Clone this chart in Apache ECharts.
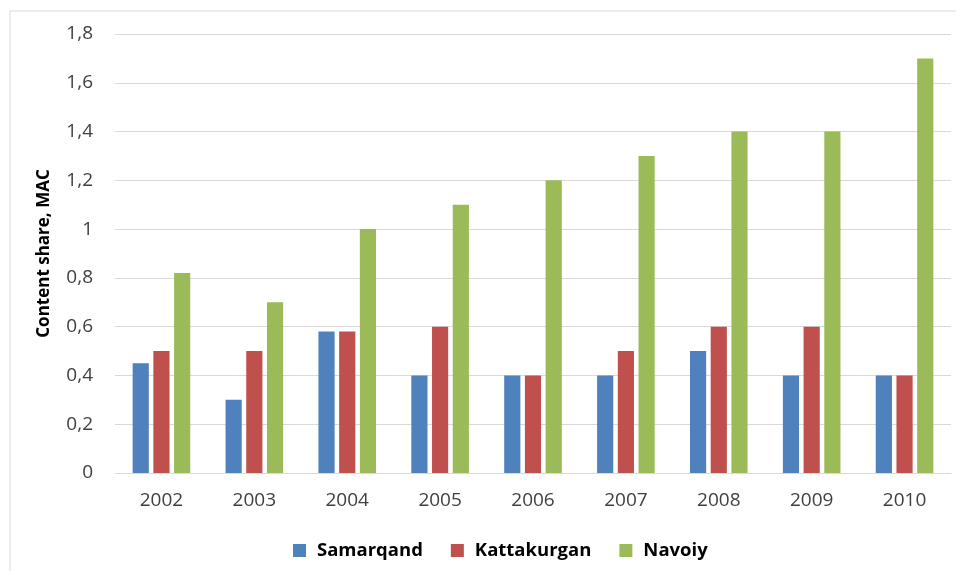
<!DOCTYPE html>
<html>
<head>
<meta charset="utf-8">
<script src="https://cdn.jsdelivr.net/npm/echarts@6/dist/echarts.min.js"></script>
<style>
  html, body { margin: 0; padding: 0; background: #fff; }
  #chart { width: 956px; height: 571px; }
</style>
</head>
<body>
<div id="chart"></div>
<script>
const years = ['2002', '2003', '2004', '2005', '2006', '2007', '2008', '2009', '2010']
const samarqand = [0.45, 0.3, 0.58, 0.4, 0.4, 0.4, 0.5, 0.4, 0.4]
const kattakurgan = [0.5, 0.5, 0.58, 0.6, 0.4, 0.5, 0.6, 0.6, 0.4]
const navoiy = [0.82, 0.7, 1.0, 1.1, 1.2, 1.3, 1.4, 1.4, 1.7]

const font = '"Open Sans", "DejaVu Sans", sans-serif'
const chart = echarts.init(document.getElementById('chart'))

const bar = (name, data, color) => ({
  name,
  type: 'bar',
  data,
  itemStyle: { color },
  barGap: '28%',
  barCategoryGap: '38%',
})

chart.setOption({
  backgroundColor: '#fff',
  animation: false,
  graphic: [
    { type: 'line', shape: { x1: 10, y1: 11, x2: 956, y2: 11 }, style: { stroke: '#d9d9d9', lineWidth: 1 } },
    { type: 'line', shape: { x1: 10, y1: 11, x2: 10, y2: 571 }, style: { stroke: '#d9d9d9', lineWidth: 1 } },
  ],
  grid: { left: 115, right: 5, top: 34, bottom: 98 },
  legend: {
    top: 536,
    left: 288,
    itemWidth: 13,
    itemHeight: 13,
    itemGap: 28,
    icon: 'rect',
    textStyle: { fontFamily: font, fontWeight: 'bold', fontSize: 18.5, color: '#000', padding: [0, 0, 0, 6] },
    data: ['Samarqand', 'Kattakurgan', 'Navoiy'],
  },
  xAxis: {
    type: 'category',
    data: years,
    axisLine: { lineStyle: { color: '#d9d9d9' } },
    axisTick: { show: false },
    axisLabel: { color: '#404040', fontSize: 19, fontFamily: font, margin: 18 },
  },
  yAxis: {
    type: 'value',
    min: 0,
    max: 1.8,
    interval: 0.2,
    name: 'Content share, MAC',
    nameLocation: 'middle',
    nameGap: 62,
    nameTextStyle: { fontFamily: font, fontWeight: 'bold', fontSize: 17, color: '#000' },
    axisLabel: {
      color: '#404040',
      fontSize: 19,
      fontFamily: font,
      margin: 22,
      formatter: v => String(Math.round(v * 10) / 10).replace('.', ','),
    },
    splitLine: { lineStyle: { color: '#d9d9d9' } },
  },
  series: [
    bar('Samarqand', samarqand, '#4f81bd'),
    bar('Kattakurgan', kattakurgan, '#c0504d'),
    bar('Navoiy', navoiy, '#9bbb59'),
  ],
})
window.addEventListener('resize', () => chart.resize())
</script>
</body>
</html>
